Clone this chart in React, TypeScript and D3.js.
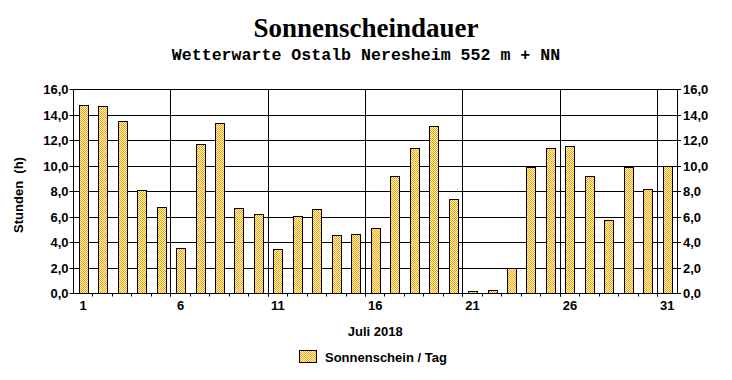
import React from "react";
import * as d3 from "d3";

const days: number[] = d3.range(1, 32);
const sunshine: number[] = [
  14.8, 14.7, 13.5, 8.1, 6.8, 3.6, 11.7, 13.4, 6.7, 6.2,
  3.5, 6.1, 6.6, 4.6, 4.7, 5.1, 9.2, 11.4, 13.1, 7.4,
  0.2, 0.3, 2.0, 9.9, 11.4, 11.6, 9.2, 5.8, 9.9, 8.2, 10.0,
];
const yTicks: number[] = [0, 2, 4, 6, 8, 10, 12, 14, 16];
const xLabelDays: number[] = [1, 6, 11, 16, 21, 26, 31];
const gridDays: number[] = [6, 11, 16, 21, 26, 31];

const title = "Sonnenscheindauer";
const subtitle = "Wetterwarte Ostalb Neresheim 552 m + NN";
const xTitle = "Juli 2018";
const yTitle = "Stunden  (h)";
const legendLabel = "Sonnenschein / Tag";

const W = 732;
const H = 380;
const left = 73.5;
const right = 677;
const top = 89.5;
const bottom = 293.5;

export default function App() {
  const x = d3
    .scaleBand<number>()
    .domain(days)
    .range([left, right])
    .paddingInner(0)
    .paddingOuter(0);
  const y = d3.scaleLinear().domain([0, 16]).range([bottom, top]);
  const bw = x.bandwidth();
  const barW = 9;
  const fmt = (v: number) => v.toFixed(1).replace(".", ",");
  const sans = "'Liberation Sans', Arial, sans-serif";
  const snap = (v: number) => Math.round(v - 0.5) + 0.5;

  return (
    <svg
      width={W}
      height={H}
      style={{ position: "absolute", left: 0, top: 0, background: "#fff" }}
    >
      <defs>
        <pattern id="dither" width="2" height="2" patternUnits="userSpaceOnUse">
          <rect x="0" y="0" width="2" height="2" fill="#FFFAD8" />
          <rect x="0" y="0" width="1" height="1" fill="#FFA000" />
          <rect x="1" y="1" width="1" height="1" fill="#FFA000" />
        </pattern>
      </defs>
      <rect x={0} y={0} width={W} height={H} fill="#fff" />

      <text
        x={366}
        y={37}
        textAnchor="middle"
        fontFamily="'Liberation Serif', 'Times New Roman', serif"
        fontWeight="bold"
        fontSize={27}
      >
        {title}
      </text>
      <text
        x={366}
        y={60}
        textAnchor="middle"
        fontFamily="'Liberation Mono', 'Courier New', monospace"
        fontWeight="bold"
        fontSize={16.6}
      >
        {subtitle}
      </text>

      {/* horizontal grid */}
      {yTicks.map((t) => (
        <line
          key={"h" + t}
          x1={left}
          x2={right}
          y1={snap(y(t))}
          y2={snap(y(t))}
          stroke="#000"
          strokeWidth={1}
        />
      ))}
      {/* vertical grid */}
      {gridDays.map((d) => (
        <line
          key={"v" + d}
          x1={snap(x(d)!)}
          x2={snap(x(d)!)}
          y1={top}
          y2={bottom + 3}
          stroke="#000"
          strokeWidth={1}
        />
      ))}
      {/* axes */}
      <line x1={snap(left)} x2={snap(left)} y1={top} y2={bottom} stroke="#000" />
      <line x1={snap(right)} x2={snap(right)} y1={top} y2={bottom} stroke="#000" />
      {/* bottom small ticks at band boundaries */}
      {days.slice(1).map((d) => (
        <line
          key={"bt" + d}
          x1={snap(x(d)!)}
          x2={snap(x(d)!)}
          y1={bottom}
          y2={bottom + 3}
          stroke="#000"
        />
      ))}
      {/* y ticks */}
      {yTicks.map((t) => (
        <g key={"yt" + t}>
          <line x1={left - 4} x2={left} y1={snap(y(t))} y2={snap(y(t))} stroke="#000" />
          <line x1={right} x2={right + 4} y1={snap(y(t))} y2={snap(y(t))} stroke="#000" />
          <text
            x={left - 5}
            y={y(t) + 4.5}
            textAnchor="end"
            fontFamily={sans}
            fontWeight="bold"
            fontSize={13}
          >
            {fmt(t)}
          </text>
          <text
            x={right + 6}
            y={y(t) + 4.5}
            textAnchor="start"
            fontFamily={sans}
            fontWeight="bold"
            fontSize={13}
          >
            {fmt(t)}
          </text>
        </g>
      ))}

      {/* bars */}
      {days.map((d, i) => {
        const cx = x(d)! + bw / 2;
        const x0 = Math.round(cx - barW / 2) + 0.5;
        const y0 = Math.round(y(sunshine[i])) + 0.5;
        return (
          <rect
            key={"b" + d}
            x={x0}
            y={y0}
            width={barW}
            height={Math.max(0, snap(bottom) - y0)}
            fill="url(#dither)"
            stroke="#000"
            strokeWidth={1}
          />
        );
      })}

      {/* x labels */}
      {xLabelDays.map((d) => (
        <text
          key={"xl" + d}
          x={x(d)! + bw / 2}
          y={310}
          textAnchor="middle"
          fontFamily={sans}
          fontWeight="bold"
          fontSize={13}
        >
          {d}
        </text>
      ))}
      <text
        x={(left + right) / 2}
        y={336}
        textAnchor="middle"
        fontFamily={sans}
        fontWeight="bold"
        fontSize={13}
      >
        {xTitle}
      </text>
      <text
        transform={`translate(23, 195) rotate(-90)`}
        textAnchor="middle"
        fontFamily={sans}
        fontWeight="bold"
        fontSize={13}
        style={{ whiteSpace: "pre" }}
      >
        {yTitle}
      </text>

      {/* legend */}
      <rect x={299.5} y={350.5} width={17} height={12} fill="url(#dither)" stroke="#000" />
      <text x={325} y={362} fontFamily={sans} fontWeight="bold" fontSize={13}>
        {legendLabel}
      </text>
    </svg>
  );
}
